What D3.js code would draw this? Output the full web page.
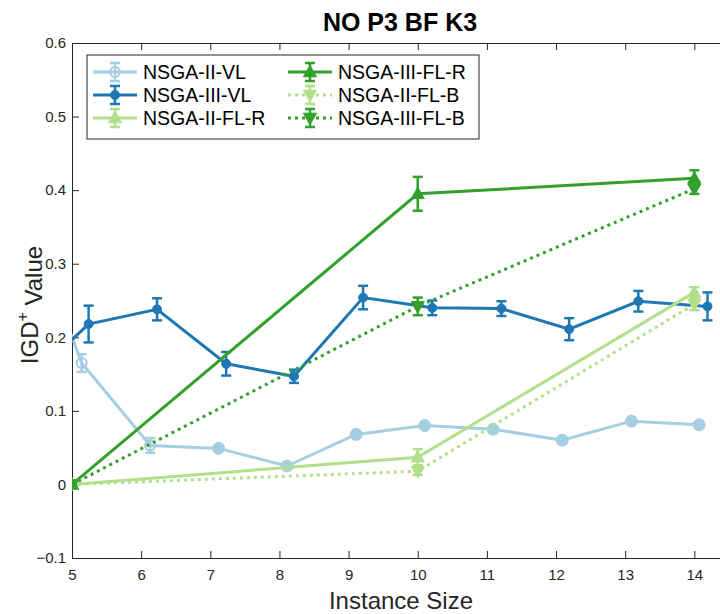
<!DOCTYPE html>
<html><head><meta charset="utf-8">
<script src="https://cdn.jsdelivr.net/npm/d3@7"></script>
<style>body{margin:0;background:#fff}svg{display:block}text{font-family:"Liberation Sans",Arial,Helvetica,sans-serif}</style>
</head><body>
<svg id="c" width="720" height="614"></svg>
<script>
// ---- data ----
const xTicks = [5,6,7,8,9,10,11,12,13,14];
const yTicks = [-0.1,0,0.1,0.2,0.3,0.4,0.5,0.6];
const seriesNames = ["NSGA-II-VL","NSGA-III-VL","NSGA-II-FL-R","NSGA-III-FL-R","NSGA-II-FL-B","NSGA-III-FL-B"];

const iiVL_x = [4.14,5.14,6.13,7.12,8.11,9.11,10.1,11.09,12.09,13.09,14.07];
const iiVL_y = [0.42,0.165,0.053,0.049,0.025,0.068,0.080,0.075,0.060,0.086,0.081];
const iiVL_e = [0,0.012,0.010,0,0,0,0,0,0,0,0];

const iiiVL_x = [4.24,5.24,6.23,7.23,8.21,9.21,10.21,11.21,12.19,13.19,14.19];
const iiiVL_y = [0.13,0.218,0.238,0.164,0.147,0.254,0.240,0.239,0.211,0.249,0.242];
const iiiVL_e = [0.02,0.025,0.015,0.016,0.009,0.016,0.010,0.010,0.015,0.014,0.019];

const fl_x = [5,10,14];
const iiFLR_y = [0,0.037,0.261];   const iiFLR_e = [0.002,0.011,0.007];
const iiiFLR_y = [0,0.395,0.416];  const iiiFLR_e = [0.002,0.023,0.011];
const iiFLB_y = [0,0.018,0.245];   const iiFLB_e = [0.002,0.005,0.008];
const iiiFLB_y = [0,0.242,0.402];  const iiiFLB_e = [0.002,0.012,0.007];

// ---- layout ----
const L=72, T=43, B=558, R=722;
const svg = d3.select("#c");
const x = d3.scaleLinear().domain([5,14.4]).range([L,R]);
const y = d3.scaleLinear().domain([-0.1,0.6]).range([B,T]);
const axisCol = "#262626";

const C = {lb:"#a6cee3", db:"#1f78b4", lg:"#b2df8a", dg:"#33a02c"};
const series = [
  {name:seriesNames[0], xs:iiVL_x, ys:iiVL_y, es:iiVL_e, col:C.lb, mk:"circle", dash:null},
  {name:seriesNames[1], xs:iiiVL_x, ys:iiiVL_y, es:iiiVL_e, col:C.db, mk:"dot", dash:null},
  {name:seriesNames[2], xs:fl_x, ys:iiFLR_y, es:iiFLR_e, col:C.lg, mk:"up", dash:null},
  {name:seriesNames[3], xs:fl_x, ys:iiiFLR_y, es:iiiFLR_e, col:C.dg, mk:"up", dash:null},
  {name:seriesNames[4], xs:fl_x, ys:iiFLB_y, es:iiFLB_e, col:C.lg, mk:"down", dash:"3,4"},
  {name:seriesNames[5], xs:fl_x, ys:iiiFLB_y, es:iiiFLB_e, col:C.dg, mk:"down", dash:"3,4"}
];

svg.append("defs").append("clipPath").attr("id","clip")
  .append("rect").attr("x",L).attr("y",T).attr("width",R-L).attr("height",B-T);

// axes
const gx = svg.append("g").attr("transform",`translate(0,${B})`)
  .call(d3.axisBottom(x).tickValues(xTicks).tickSize(-7).tickPadding(11).tickSizeOuter(0));
const gxt = svg.append("g").attr("transform",`translate(0,${T})`)
  .call(d3.axisTop(x).tickValues(xTicks).tickSize(-7).tickFormat("").tickSizeOuter(0));
const gy = svg.append("g").attr("transform",`translate(${L},0)`)
  .call(d3.axisLeft(y).tickValues(yTicks).tickSize(-7).tickPadding(6).tickSizeOuter(0)
    .tickFormat(d=> d===0 ? "0" : d3.format(".1f")(d)));
[gx,gxt,gy].forEach(g=>{
  g.selectAll(".domain").attr("stroke",axisCol).attr("stroke-width",1);
  g.selectAll(".tick line").attr("stroke",axisCol).attr("stroke-width",1);
  g.selectAll(".tick text").attr("fill","#262626").style("font-size","15px").style("font-family","'Liberation Sans',Arial,sans-serif");
});
gx.selectAll(".tick text").attr("dy","0.71em");

function marker(g, mk, cx, cy, col, hollow){
  if(mk==="circle"){
    g.append("circle").attr("cx",cx).attr("cy",cy).attr("r",hollow?5:6)
      .attr("fill",hollow?"none":col).attr("stroke",col).attr("stroke-width",hollow?2:1);
  } else if(mk==="dot"){
    g.append("circle").attr("cx",cx).attr("cy",cy).attr("r",4.5).attr("fill",col).attr("stroke",col);
  } else {
    const p = d3.symbol().type(d3.symbolTriangle).size(75)();
    g.append("path").attr("d",p).attr("fill",col).attr("stroke",col).attr("stroke-width",1)
      .attr("transform",`translate(${cx},${cy+(mk==="down"?-1:1)}) rotate(${mk==="down"?180:0})`);
  }
}
function errbar(g, cx, y0, y1, col){
  g.append("line").attr("x1",cx).attr("x2",cx).attr("y1",y0).attr("y2",y1).attr("stroke",col).attr("stroke-width",2.5);
  [y0,y1].forEach(v=>g.append("line").attr("x1",cx-5).attr("x2",cx+5).attr("y1",v).attr("y2",v).attr("stroke",col).attr("stroke-width",2.5));
}

const plot = svg.append("g").attr("clip-path","url(#clip)");
series.forEach(s=>{
  const g = plot.append("g");
  const pts = s.xs.map((v,i)=>[v,s.ys[i],s.es[i]]);
  g.append("path").datum(pts)
    .attr("d",d3.line().x(d=>x(d[0])).y(d=>y(d[1])))
    .attr("fill","none").attr("stroke",s.col).attr("stroke-width",3)
    .attr("stroke-dasharray",s.dash);
  pts.forEach(d=>{
    if(d[2]>0) errbar(g, x(d[0]), y(d[1]-d[2]), y(d[1]+d[2]), s.col);
    marker(g, s.mk, x(d[0]), y(d[1]), s.col, s.mk==="circle" && d[2]>0);
  });
});

// legend
const lg = svg.append("g");
lg.append("rect").attr("x",87).attr("y",55).attr("width",392).attr("height",84)
  .attr("fill","#fff").attr("stroke",axisCol).attr("stroke-width",1);
const rows=[72,95,118], cols=[93,288];
series.forEach((s,i)=>{
  const col = Math.floor(i/3), row = i%3;
  const x0 = cols[col], yy = rows[row];
  const g = lg.append("g");
  g.append("line").attr("x1",x0).attr("x2",x0+44).attr("y1",yy).attr("y2",yy)
    .attr("stroke",s.col).attr("stroke-width",3).attr("stroke-dasharray",s.dash);
  errbar(g, x0+22, yy-9, yy+9, s.col);
  marker(g, s.mk, x0+22, yy, s.col, s.mk==="circle");
  g.append("text").attr("x",x0+50).attr("y",yy).attr("dy","0.36em")
    .style("font-size","19.5px").attr("fill","#000").text(s.name);
});

// titles
svg.append("text").attr("x",400).attr("y",22).attr("dy","0.36em").attr("text-anchor","middle")
  .style("font-size","25px").style("font-weight","bold").attr("fill","#000").text("NO P3 BF K3");
svg.append("text").attr("x",401).attr("y",600).attr("dy","0.36em").attr("text-anchor","middle")
  .style("font-size","24px").attr("fill","#262626").text("Instance Size");
const yl = svg.append("text").attr("transform","translate(29,305) rotate(-90)").attr("text-anchor","middle")
  .attr("dy","0.36em").style("font-size","24px").attr("fill","#262626");
yl.append("tspan").text("IGD");
yl.append("tspan").attr("dy","-0.6em").style("font-size","16px").text("+");
yl.append("tspan").attr("dy","0.6em").text(" Value");
</script>
</body></html>
